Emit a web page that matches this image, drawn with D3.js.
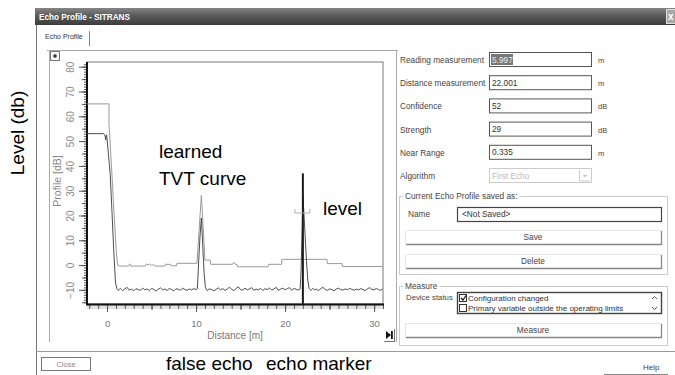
<!DOCTYPE html>
<html><head><meta charset="utf-8">
<script src="https://cdn.jsdelivr.net/npm/d3@7"></script>
<style>
body{margin:0;background:#fff;}
svg{display:block;font-family:"Liberation Sans",Arial,sans-serif;}
</style></head><body>
<svg id="c" width="675" height="375"></svg>
<script>
// ---------------- DATA ----------------
// Echo profile (dark curve): distance [m], level [dB]
const profileDist = [-2.25,-0.4,-0.25,-0.15,-0.05,0.0,0.15,0.35,0.55,0.75,0.95,1.1,
 1.25,1.5,1.75,2.0,2.25,2.5,2.75,3.0,3.25,3.5,3.75,4.0,4.25,4.5,4.75,5.0,5.25,5.5,5.75,6.0,6.25,6.5,6.75,7.0,7.25,7.5,7.75,8.0,8.25,8.5,8.75,9.0,9.25,9.5,9.75,10.0,
 10.15,10.3,10.45,10.6,10.75,10.9,11.05,
 11.25,11.5,11.75,12.0,12.25,12.5,12.75,13.0,13.25,13.5,13.75,14.0,14.25,14.5,14.75,15.0,15.25,15.5,15.75,16.0,16.25,16.5,16.75,17.0,17.25,17.5,17.75,18.0,18.25,18.5,18.75,19.0,19.25,19.5,19.75,20.0,20.25,20.5,20.75,21.0,21.25,21.5,21.7,
 21.8,21.9,22.0,22.1,22.25,22.4,22.55,22.7,
 22.9,23.1,23.3,23.5,23.75,24.0,24.25,24.5,24.75,25.0,25.25,25.5,25.75,26.0,26.25,26.5,26.75,27.0,27.25,27.5,27.75,28.0,28.25,28.5,28.75,29.0,29.25,29.5,29.75,30.0,30.25,30.5,30.75,30.95];
const profileDb = [53,53,52.5,50.5,52.5,51,45,37,22,6,-7,-9.5,
 -10.2,-9.4,-10.3,-9.6,-9.0,-10.1,-9.7,-10.4,-9.5,-9.9,-10.2,-9.3,-10.0,-9.6,-10.3,-9.4,-9.8,-10.5,-9.7,-9.2,-10.0,-9.6,-10.2,-9.4,-9.9,-10.4,-9.5,-9.8,-10.1,-9.3,-9.9,-10.2,-9.6,-10.0,-9.5,-9.9,
 -9.5,2,12,19,8,-3,-9.0,
 -10.3,-9.6,-9.9,-10.4,-9.8,-9.2,-10.0,-9.5,-10.2,-9.7,-8.9,-9.8,-10.3,-9.4,-8.8,-9.9,-10.1,-9.3,-10.0,-9.6,-9.1,-10.2,-9.7,-10.0,-9.4,-10.3,-9.5,-9.9,-9.2,-10.1,-9.6,-9.0,-10.2,-9.7,-9.3,-10.0,-9.5,-9.1,-10.2,-9.4,-9.8,-10.1,-9.6,
 -2,12,27.5,22,12,2,-6,-9.5,
 -10.2,-9.4,-10.0,-9.7,-10.3,-9.5,-9.0,-9.8,-10.2,-9.6,-9.9,-10.4,-9.7,-9.3,-9.9,-10.1,-9.6,-10.0,-9.4,-9.8,-10.2,-9.7,-10.0,-9.5,-9.9,-10.3,-9.6,-9.1,-9.8,-10.0,-9.4,-9.9,-10.2,-9.6];
// Learned TVT curve (light curve)
const tvtDist = [-2.25,0.22,0.22,0.5,0.8,1.05,1.2,1.4,2.4,2.55,2.7,4.3,4.4,4.6,4.8,5.0,5.2,5.4,6.5,6.6,6.9,7.1,7.2,7.8,7.85,10.1,10.6,11.0,11.6,11.65,14.1,14.25,14.4,14.6,14.65,18.1,18.15,19.6,19.65,24.7,24.75,26.4,26.45,31.0];
const tvtDb   = [65,65,57,40,20,5,0,-0.4,-0.4,0.5,-0.4,-0.4,0.4,0.1,0.5,-0.2,0.2,-0.4,-0.4,0.4,0.2,0.4,-0.3,-0.3,0.7,0.7,28.2,2,2,0.3,0.3,1.1,0.3,0.3,-0.7,-0.7,0.3,0.3,2.3,2.3,0.6,0.6,-0.6,-0.6];
const echoMarker = {dist: 22.0, top: 37};
const yDomain = [-15.7, 81.9];
const xDomain = [-2.25, 31.0];
const yTickLabels = [-10,0,10,20,30,40,50,60,70,80];
const xTickLabels = [0,10,20,30];
const fieldLabels = ["Reading measurement","Distance measurement","Confidence","Strength","Near Range"];
const fieldValues = ["5.997","22.001","52","29","0.335"];
const fieldUnits  = ["m","m","dB","dB","m"];
const statusItems = ["Configuration changed","Primary variable outside the operating limits"];
const statusChecked = [true,false];

// ---------------- DRAW ----------------
const svg = d3.select("#c");
svg.append("rect").attr("width",675).attr("height",375).attr("fill","#fff");
const defs = svg.append("defs");
const tb = defs.append("linearGradient").attr("id","tb").attr("x1",0).attr("y1",0).attr("x2",0).attr("y2",1);
tb.append("stop").attr("offset",0).attr("stop-color","#858585");
tb.append("stop").attr("offset",0.45).attr("stop-color","#5a5a5a");
tb.append("stop").attr("offset",1).attr("stop-color","#3c3c3c");
defs.append("clipPath").attr("id","pc").append("rect").attr("x",87).attr("y",62).attr("width",296).attr("height",242);

// title bar
svg.append("rect").attr("x",35).attr("y",8).attr("width",640).attr("height",17).attr("fill","url(#tb)");
svg.append("text").attr("x",39).attr("y",20).attr("fill","#fff").attr("font-weight","bold").attr("font-size",8.2).text("Echo Profile - SITRANS");
svg.append("rect").attr("x",666.5).attr("y",9.5).attr("width",9).attr("height",14).attr("fill","#a8a8a8").attr("stroke","#e0e0e0");
svg.append("text").attr("x",668).attr("y",20).attr("fill","#fff").attr("font-size",10).attr("font-weight","bold").text("x");
// dialog left border
svg.append("line").attr("x1",36.5).attr("x2",36.5).attr("y1",25).attr("y2",375).attr("stroke","#777");
// tab
svg.append("text").attr("x",45).attr("y",39).attr("font-size",7).attr("fill","#333").text("Echo Profile");
svg.append("line").attr("x1",89.5).attr("x2",89.5).attr("y1",31).attr("y2",46).attr("stroke","#888");
svg.append("line").attr("x1",47).attr("x2",398).attr("y1",50.5).attr("y2",50.5).attr("stroke","#aaa");
svg.append("line").attr("x1",49.5).attr("x2",49.5).attr("y1",50).attr("y2",342).attr("stroke","#aaa");
svg.append("line").attr("x1",396.5).attr("x2",396.5).attr("y1",50).attr("y2",342).attr("stroke","#aaa");
// small top-left button
svg.append("rect").attr("x",50.5).attr("y",51.5).attr("width",9).attr("height",9).attr("fill","#f4f4f4").attr("stroke","#777");
svg.append("circle").attr("cx",55).attr("cy",56).attr("r",1.8).attr("fill","#333");
// separator line
svg.append("line").attr("x1",36).attr("x2",675).attr("y1",351.5).attr("y2",351.5).attr("stroke","#999");

// plot scales
const x = d3.scaleLinear().domain(xDomain).range([87,383]);
const y = d3.scaleLinear().domain(yDomain).range([304,62]);
svg.append("rect").attr("x",87).attr("y",62).attr("width",296).attr("height",242).attr("fill","#fff").attr("stroke","#555").attr("stroke-width",0.8);

// Y axis: minor/medium/major ticks
const yAxisG = svg.append("g").attr("transform","translate(87,0)");
function tickStyle(g){ g.select(".domain").remove(); g.selectAll("line").attr("stroke","#555"); }
yAxisG.append("g").call(d3.axisLeft(y).tickValues(d3.range(-15,82,1)).tickSize(3).tickFormat("")).call(tickStyle);
yAxisG.append("g").call(d3.axisLeft(y).tickValues(d3.range(-15,82,5)).tickSize(5).tickFormat("")).call(tickStyle);
const yMaj = yAxisG.append("g").call(d3.axisLeft(y).tickValues(yTickLabels).tickSize(8)).call(tickStyle);
yMaj.selectAll("text").attr("x",0).attr("dy",0).attr("text-anchor","middle")
  .attr("transform","translate(-13.5,0) rotate(-90)")
  .attr("fill","#888").attr("font-size",10).attr("font-family",'"Liberation Sans",Arial,sans-serif');
svg.append("text").attr("transform","translate(61,181) rotate(-90)").attr("text-anchor","middle")
  .attr("font-size",10.5).attr("fill","#888").text("Profile [dB]");

// X axis
const xAxisG = svg.append("g").attr("transform","translate(0,305)");
xAxisG.append("rect").attr("x",87).attr("y",0).attr("width",296).attr("height",4).attr("fill","#e2e2e2");
xAxisG.append("g").call(d3.axisBottom(x).tickValues(d3.range(-2,32,1)).tickSize(4).tickFormat("")).call(tickStyle);
xAxisG.append("g").call(d3.axisBottom(x).tickValues(d3.range(0,32,5)).tickSize(5).tickFormat("")).call(tickStyle);
const xMaj = xAxisG.append("g").call(d3.axisBottom(x).tickValues(xTickLabels).tickSize(7).tickPadding(8)).call(tickStyle);
xMaj.selectAll("text").attr("fill","#777").attr("font-size",9.5).attr("font-family",'"Liberation Sans",Arial,sans-serif');
svg.append("text").attr("x",235).attr("y",339).attr("text-anchor","middle").attr("font-size",10).attr("fill","#777").text("Distance [m]");

// axes lines
svg.append("line").attr("x1",87).attr("x2",87).attr("y1",62).attr("y2",305).attr("stroke","#111").attr("stroke-width",2);
svg.append("line").attr("x1",86).attr("x2",384).attr("y1",304.5).attr("y2",304.5).attr("stroke","#111").attr("stroke-width",2);

// curves
const line = d3.line().x(d=>x(d[0])).y(d=>y(d[1]));
const plot = svg.append("g").attr("clip-path","url(#pc)");
plot.append("path").datum(d3.zip(tvtDist,tvtDb)).attr("d",line).attr("fill","none").attr("stroke","#9a9a9a").attr("stroke-width",1);
plot.append("path").datum(d3.zip(profileDist,profileDb)).attr("d",line).attr("fill","none").attr("stroke","#3a3a3a").attr("stroke-width",0.9);
// echo marker
plot.append("line").attr("x1",x(echoMarker.dist)).attr("x2",x(echoMarker.dist))
  .attr("y1",y(echoMarker.top)).attr("y2",304).attr("stroke","#1a1a1a").attr("stroke-width",2);
// level bracket
const bx = x(echoMarker.dist);
plot.append("path").attr("d",`M${bx-8},209 V213 H${bx+7} V209`).attr("fill","none").attr("stroke","#b0b0b0").attr("stroke-width",1);

// bottom-right icon button
svg.append("path").attr("d","M386,331 L391,335 L386,339 Z").attr("fill","#111");
svg.append("rect").attr("x",391).attr("y",331).attr("width",1.8).attr("height",8).attr("fill","#111");
svg.append("line").attr("x1",384).attr("x2",395).attr("y1",341.5).attr("y2",341.5).attr("stroke","#777");
svg.append("line").attr("x1",394.5).attr("x2",394.5).attr("y1",329).attr("y2",342).attr("stroke","#777");

// annotations
const ann = svg.append("g").attr("fill","#000").attr("font-size",19).attr("font-family",'"Liberation Sans Narrow","Liberation Sans",Arial,sans-serif');
ann.append("text").attr("x",159).attr("y",158).text("learned");
ann.append("text").attr("x",159).attr("y",185).text("TVT curve");
ann.append("text").attr("x",323).attr("y",215).text("level");
ann.append("text").attr("x",166).attr("y",370).text("false echo");
ann.append("text").attr("x",266).attr("y",370).text("echo marker");
ann.append("text").attr("transform","translate(24,133) rotate(-90)").attr("text-anchor","middle").text("Level (db)");

// right panel fields
const rp = svg.append("g").attr("font-size",8.3).attr("fill","#444");
const rowStep = 23.2;
fieldLabels.forEach((lab,i)=>{
  const cy = 60 + i*rowStep;
  rp.append("text").attr("x",400).attr("y",cy+3).text(lab);
  rp.append("rect").attr("x",489.5).attr("y",cy-7.5).attr("width",102).attr("height",14).attr("fill","#fff").attr("stroke","#555");
  if(i===0){
    rp.append("rect").attr("x",491).attr("y",cy-6).attr("width",22).attr("height",11).attr("fill","#777");
    rp.append("text").attr("x",492).attr("y",cy+2.5).attr("fill","#eee").text(fieldValues[i]);
  } else {
    rp.append("text").attr("x",492).attr("y",cy+2.5).attr("fill","#333").text(fieldValues[i]);
  }
  rp.append("text").attr("x",598).attr("y",cy+3).attr("font-size",7.5).text(fieldUnits[i]);
});
{
  const cy = 60 + 5*rowStep;
  rp.append("text").attr("x",400).attr("y",cy+3).text("Algorithm");
  rp.append("rect").attr("x",489.5).attr("y",cy-7.5).attr("width",102).attr("height",14).attr("fill","#fff").attr("stroke","#ccc");
  rp.append("text").attr("x",492).attr("y",cy+2.5).attr("fill","#bbb").text("First Echo");
  rp.append("path").attr("d",`M579.5,${cy-6} V${cy+5} H590`).attr("fill","none").attr("stroke","#ccc");
  rp.append("path").attr("d",`M583,${cy-1} L587,${cy-1} L585,${cy+1.5} Z`).attr("fill","#bbb");
}
// group boxes
function group(x0,y0,w,h,title){
  rp.append("rect").attr("x",x0+0.5).attr("y",y0+0.5).attr("width",w).attr("height",h).attr("fill","none").attr("stroke","#ccc");
  const t = rp.append("text").attr("x",x0+6).attr("y",y0+3).attr("fill","#444").text(title);
  const bb = t.node().getBBox();
  rp.insert("rect","text:last-of-type").attr("x",bb.x-2).attr("y",y0-2).attr("width",bb.width+4).attr("height",5).attr("fill","#fff");
  t.raise();
}
group(399,196,268,78,"Current Echo Profile saved as:");
rp.append("text").attr("x",408).attr("y",217).text("Name");
rp.append("rect").attr("x",457.5).attr("y",207.5).attr("width",204).attr("height",14).attr("fill","#fff").attr("stroke","#444").attr("stroke-width",1.2);
rp.append("text").attr("x",462).attr("y",217).attr("fill","#333").text("<Not Saved>");
function button(x0,y0,w,h,label){
  rp.append("rect").attr("x",x0+0.5).attr("y",y0+0.5).attr("width",w).attr("height",h).attr("fill","#fff").attr("stroke","#e6e6e6");
  rp.append("path").attr("d",`M${x0+w+0.5},${y0+1} V${y0+h+0.5} H${x0+1}`).attr("fill","none").attr("stroke","#888").attr("stroke-width",1.3);
  rp.append("text").attr("x",x0+w/2).attr("y",y0+h/2+3).attr("text-anchor","middle").attr("fill","#444").text(label);
}
button(405,230,256,14,"Save");
button(405,254,256,14,"Delete");
group(399,286,268,59,"Measure");
rp.append("text").attr("x",406).attr("y",300).attr("font-size",7.8).text("Device status");
rp.append("rect").attr("x",457.5).attr("y",292.5).attr("width",204).attr("height",21).attr("fill","#fff").attr("stroke","#444").attr("stroke-width",1.4);
statusItems.forEach((s,i)=>{
  const cy = 298 + i*10;
  rp.append("rect").attr("x",459.5).attr("y",cy-3.5).attr("width",7).attr("height",7).attr("fill","#fff").attr("stroke","#333");
  if(statusChecked[i]) rp.append("path").attr("d",`M461,${cy} L463,${cy+2} L466,${cy-2.5}`).attr("fill","none").attr("stroke","#111").attr("stroke-width",1.2);
  rp.append("text").attr("x",468).attr("y",cy+3).attr("fill","#333").attr("font-size",8).text(s);
});
rp.append("path").attr("d","M652,299 L654.5,296.5 L657,299").attr("fill","none").attr("stroke","#555");
rp.append("path").attr("d","M652,307 L654.5,309.5 L657,307").attr("fill","none").attr("stroke","#555");
button(405,323,256,14,"Measure");

// bottom buttons
svg.append("rect").attr("x",41.5).attr("y",357.5).attr("width",49).attr("height",13).attr("fill","#fff").attr("stroke","#777");
svg.append("text").attr("x",66).attr("y",367).attr("text-anchor","middle").attr("font-size",7.5).attr("fill","#888").text("Close");
svg.append("text").attr("x",643).attr("y",370).attr("font-size",8).attr("fill","#444").text("Help");
svg.append("line").attr("x1",604).attr("x2",668).attr("y1",374.5).attr("y2",374.5).attr("stroke","#888");
</script>
</body></html>
